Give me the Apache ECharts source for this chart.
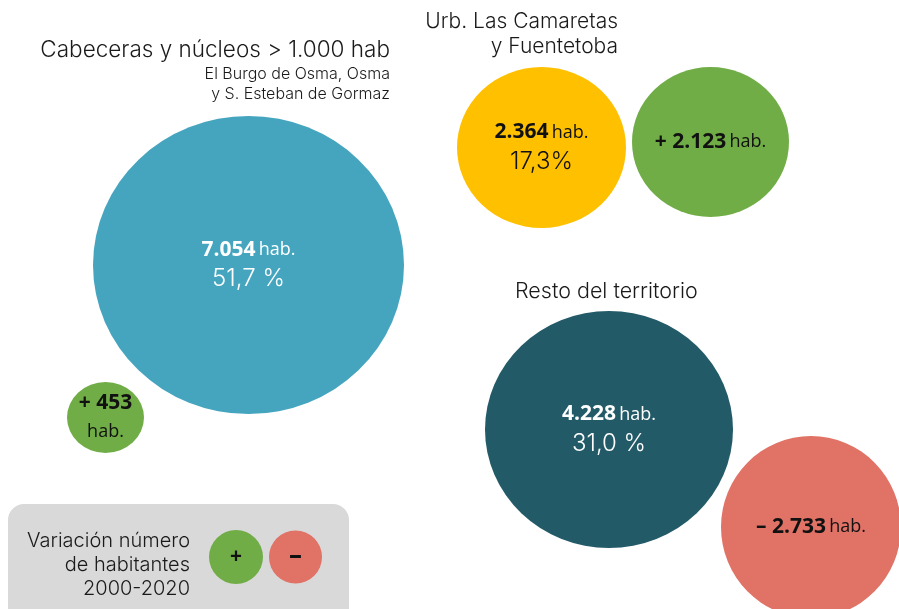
<!DOCTYPE html>
<html>
<head>
<meta charset="utf-8">
<script src="https://cdn.jsdelivr.net/npm/echarts@6/dist/echarts.min.js"></script>
<style>
    html, body { margin: 0; padding: 0; background: #fff; }
    #chart { width: 899px; height: 609px; }
</style>
</head>
<body>
<div id="chart"></div>
<script>
// datos: población 2020 y variación 2000-2020
var grupos = ['Cabeceras y núcleos > 1.000 hab', 'Urb. Las Camaretas y Fuentetoba', 'Resto del territorio'];
var habitantes = [7054, 2364, 4228];
var porcentajes = [51.7, 17.3, 31.0];
var variacion = [453, 2123, -2733];

// colocación de las burbujas (centro x, centro y, ancho, alto) en unidades de los ejes
var posPoblacion = [[248.5, 265, 311, 298], [541.5, 147.5, 169, 161], [609, 429.5, 248, 237]];
var posVariacion = [[105.5, 417.5, 77, 71], [710.5, 142, 157, 150], [811, 527, 180, 182]];
var coloresPoblacion = ['#45a5bf', '#ffc000', '#235a68'];
var textoPoblacion = ['#fff', '#111', '#fff'];
var sepPct = [' %', '%', ' %'];

var LIGHT = 'Inter, Roboto, "Liberation Sans", sans-serif';
var BOLD = '"Open Sans", "Noto Sans", sans-serif';

function miles(n) {
    return String(Math.abs(n)).replace(/\B(?=(\d{3})+(?!\d))/g, '.');
}

var poblacionData = habitantes.map(function (v, i) {
    var p = posPoblacion[i];
    return {
        value: [p[0], p[1], v],
        symbolSize: [p[2], p[3]],
        itemStyle: { color: coloresPoblacion[i], opacity: 1 },
        label: {
            formatter: '{b|' + miles(v) + '} {h|hab.}\n{p|' + porcentajes[i].toFixed(1).replace('.', ',') + sepPct[i] + '}',
            rich: {
                b: { fontFamily: BOLD, fontWeight: 'bold', fontSize: 21, color: textoPoblacion[i], lineHeight: 28 },
                h: { fontFamily: BOLD, fontSize: 18, color: textoPoblacion[i], lineHeight: 28 },
                p: { fontFamily: LIGHT, fontWeight: 300, fontSize: 24, color: textoPoblacion[i], lineHeight: 30 }
            }
        }
    };
});

var variacionData = variacion.map(function (v, i) {
    var p = posVariacion[i];
    var signo = v >= 0 ? '+ ' : '– ';
    var sep = i === 0 ? '\n' : ' ';
    return {
        value: [p[0], p[1], v],
        symbolSize: [p[2], p[3]],
        itemStyle: { color: v >= 0 ? '#70ad47' : '#e07266', opacity: 1 },
        label: {
            formatter: '{b|' + signo + miles(v) + '}' + sep + '{h|hab.}',
            rich: {
                b: { fontFamily: BOLD, fontWeight: 'bold', fontSize: 21, color: '#111', lineHeight: 28 },
                h: { fontFamily: BOLD, fontSize: 18, color: '#111', lineHeight: 28 }
            }
        }
    };
});

var chart = echarts.init(document.getElementById('chart'));
chart.setOption({
    animation: false,
    grid: { left: 0, right: 0, top: 0, bottom: 0 },
    xAxis: { type: 'value', min: 0, max: 899, show: false },
    yAxis: { type: 'value', min: 0, max: 609, inverse: true, show: false },
    graphic: [
        { type: 'text', x: 390, y: 50, style: { text: 'Cabeceras y núcleos > 1.000 hab', font: '300 22.5px ' + LIGHT, fill: '#1a1a1a', align: 'right', verticalAlign: 'middle' } },
        { type: 'text', x: 390, y: 74, style: { text: 'El Burgo de Osma, Osma', font: '300 16px ' + LIGHT, fill: '#1a1a1a', align: 'right', verticalAlign: 'middle' } },
        { type: 'text', x: 390, y: 94, style: { text: 'y S. Esteban de Gormaz', font: '300 16px ' + LIGHT, fill: '#1a1a1a', align: 'right', verticalAlign: 'middle' } },
        { type: 'text', x: 618, y: 22, style: { text: 'Urb. Las Camaretas', font: '300 21px ' + LIGHT, fill: '#1a1a1a', align: 'right', verticalAlign: 'middle' } },
        { type: 'text', x: 618, y: 47, style: { text: 'y Fuentetoba', font: '300 21px ' + LIGHT, fill: '#1a1a1a', align: 'right', verticalAlign: 'middle' } },
        { type: 'text', x: 515, y: 292, style: { text: 'Resto del territorio', font: '300 21.5px ' + LIGHT, fill: '#1a1a1a', align: 'left', verticalAlign: 'middle' } },
        // leyenda
        { type: 'rect', left: 8, top: 504, shape: { width: 341, height: 120, r: 16 }, style: { fill: '#d9d9d9' }, z: 0 },
        { type: 'text', x: 190, y: 541, style: { text: 'Variación número', font: '300 20px ' + LIGHT, fill: '#1a1a1a', align: 'right', verticalAlign: 'middle' } },
        { type: 'text', x: 190, y: 565, style: { text: 'de habitantes', font: '300 20px ' + LIGHT, fill: '#1a1a1a', align: 'right', verticalAlign: 'middle' } },
        { type: 'text', x: 190, y: 589, style: { text: '2000-2020', font: '300 20px ' + LIGHT, fill: '#1a1a1a', align: 'right', verticalAlign: 'middle' } },
        { type: 'circle', shape: { cx: 236, cy: 557, r: 27 }, style: { fill: '#70ad47' } },
        { type: 'circle', shape: { cx: 295.5, cy: 557, r: 26.5 }, style: { fill: '#e07266' } },
        { type: 'text', x: 236, y: 557, style: { text: '+', font: 'bold 21px ' + BOLD, fill: '#111', align: 'center', verticalAlign: 'middle' } },
        { type: 'text', x: 295.5, y: 557, style: { text: '–', font: 'bold 26px ' + BOLD, fill: '#111', align: 'center', verticalAlign: 'middle' } }
    ],
    series: [
        {
            name: 'Habitantes 2020',
            type: 'scatter',
            symbol: 'circle',
            clip: false,
            silent: true,
            label: { show: true, position: 'inside' },
            data: poblacionData
        },
        {
            name: 'Variación 2000-2020',
            type: 'scatter',
            symbol: 'circle',
            clip: false,
            silent: true,
            label: { show: true, position: 'inside' },
            data: variacionData
        }
    ]
});
</script>
</body>
</html>
